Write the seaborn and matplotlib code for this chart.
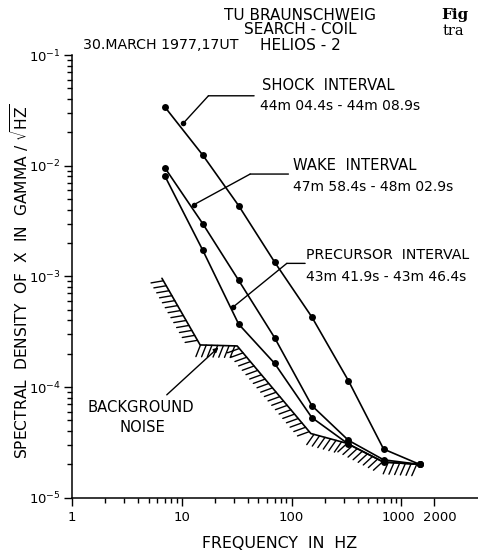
import numpy as np
import pandas as pd
import matplotlib
matplotlib.use("Agg")
import matplotlib.pyplot as plt
import seaborn as sns
from matplotlib import patheffects
from matplotlib.ticker import FixedLocator, NullFormatter, FixedFormatter
from matplotlib.transforms import ScaledTranslation

# ---- data ----
freq = [7.0, 15.5, 33, 70, 153, 330, 690, 1470]
shock = [3.4e-2, 1.25e-2, 4.35e-3, 1.35e-3, 4.3e-4, 1.14e-4, 2.75e-5, 2.0e-5]
wake = [9.6e-3, 3.0e-3, 9.2e-4, 2.8e-4, 6.8e-5, 3.3e-5, 2.2e-5, 2.0e-5]
precursor = [8.1e-3, 1.73e-3, 3.7e-4, 1.64e-4, 5.3e-5, 3.05e-5, 2.1e-5, 2.0e-5]
noise_freq = [6.6, 14.7, 32, 150, 320, 685, 1470]
noise_level = [9.6e-4, 2.4e-4, 2.35e-4, 3.8e-5, 3.1e-5, 2.1e-5, 2.0e-5]

x_major = [1, 10, 100, 1000, 2000]
x_major_labels = ["1", "10", "100", "1000", "2000"]
x_minor = [m * d for d in (1, 10, 100) for m in range(2, 10)]
y_major = [1e-5, 1e-4, 1e-3, 1e-2, 1e-1]
y_major_labels = [r"$10^{-5}$", r"$10^{-4}$", r"$10^{-3}$", r"$10^{-2}$", r"$10^{-1}$"]
y_minor = [m * d for d in (1e-5, 1e-4, 1e-3, 1e-2) for m in range(2, 10)]

series_names = ["SHOCK", "WAKE", "PRECURSOR"]
df = pd.DataFrame({
    "freq": freq * 3,
    "value": shock + wake + precursor,
    "series": [n for n in series_names for _ in freq],
})

sns.set_style("ticks")
plt.rcParams["font.family"] = ["DejaVu Sans"]
for k in ("text.color", "axes.labelcolor", "xtick.color", "ytick.color", "axes.edgecolor"):
    plt.rcParams[k] = "black"

W, H = 478, 554
fig = plt.figure(figsize=(W / 100, H / 100), dpi=100)
ax = fig.add_axes([72 / W, 1 - 497.7 / H, 1 - 72 / W, (497.7 - 55) / H])
ax.set_xscale("log")
ax.set_yscale("log")

sns.lineplot(data=df, x="freq", y="value", hue="series",
             palette=["black"] * 3, marker="o", markersize=5,
             markeredgewidth=0, linewidth=1.2, legend=False, ax=ax,
             estimator=None, sort=False)

sns.lineplot(x=noise_freq, y=noise_level, color="black", linewidth=1.2,
             ax=ax, estimator=None, sort=False)
ax.lines[-1].set_path_effects([
    patheffects.withTickedStroke(angle=-110, spacing=4.1, length=2.2, linewidth=1.0)
])

ax.set_xlim(1, 5000)
ax.set_ylim(1e-5, 1e-1)
ax.xaxis.set_major_locator(FixedLocator(x_major))
ax.xaxis.set_major_formatter(FixedFormatter(x_major_labels))
ax.xaxis.set_minor_locator(FixedLocator(x_minor))
ax.xaxis.set_minor_formatter(NullFormatter())
ax.yaxis.set_major_locator(FixedLocator(y_major))
ax.yaxis.set_major_formatter(FixedFormatter(y_major_labels))
ax.yaxis.set_minor_locator(FixedLocator(y_minor))
ax.yaxis.set_minor_formatter(NullFormatter())
ax.tick_params(which="major", length=6, width=1.0, color="black")
ax.tick_params(axis="x", which="major", labelsize=9.5)
ax.tick_params(axis="y", which="major", labelsize=9.5, pad=2)
ax.tick_params(which="minor", length=3.5, width=1.0, color="black")
# nudge the crowded 1000 / 2000 labels apart
xt = ax.get_xticklabels()
xt[3].set_transform(xt[3].get_transform() + ScaledTranslation(-3 / 100, 0, fig.dpi_scale_trans))
xt[4].set_transform(xt[4].get_transform() + ScaledTranslation(5 / 100, 0, fig.dpi_scale_trans))
for s in ("top", "right"):
    ax.spines[s].set_visible(False)
for s in ("left", "bottom"):
    ax.spines[s].set_linewidth(1.1)
ax.set_xlabel("")
ax.set_ylabel("")
ax.patch.set_alpha(0)

# ---- annotation leaders (target, elbow, end of horizontal bar) in data coords ----
leaders = [
    ((10.3, 0.0241), (17.5, 0.0428), (45.6, 0.0428)),
    ((12.8, 0.00442), (42.0, 0.0084), (93.7, 0.0084)),
    ((29.5, 5.3e-4), (90.6, 1.31e-3), (133, 1.31e-3)),
]
for tgt, elb, end in leaders:
    ax.annotate("", xy=tgt, xytext=elb,
                arrowprops=dict(arrowstyle="-", lw=1.0, color="black", shrinkA=0, shrinkB=0))
    ax.annotate("", xy=elb, xytext=end,
                arrowprops=dict(arrowstyle="-", lw=1.0, color="black", shrinkA=0, shrinkB=0))
    ax.plot([tgt[0]], [tgt[1]], "o", color="black", ms=4, mew=0)

ax.annotate("", xy=(21.6, 2.28e-4), xytext=(7.3, 8.5e-5),
            arrowprops=dict(arrowstyle="-|>", lw=1.0, color="black",
                            shrinkA=0, shrinkB=0, mutation_scale=7))

def ftext(x, y, s, **kw):
    kw.setdefault("fontsize", 10.6)
    kw.setdefault("va", "center")
    fig.text(x / W, 1 - y / H, s, **kw)

ftext(300, 15, "TU BRAUNSCHWEIG", ha="center", fontsize=11)
ftext(300, 30, "SEARCH - COIL", ha="center", fontsize=11)
ftext(300, 45, "HELIOS - 2", ha="center", fontsize=11)
ftext(83, 45, "30.MARCH 1977,17UT", ha="left", fontsize=10.2)
ftext(441, 15, "Fig", ha="left", fontsize=11, family="DejaVu Serif", weight="bold")
ftext(443, 31, "tra", ha="left", fontsize=10.5, family="DejaVu Serif")

ftext(262, 86, "SHOCK  INTERVAL", ha="left")
ftext(260, 106, "44m 04.4s - 44m 08.9s", ha="left", fontsize=10)
ftext(293, 165, "WAKE  INTERVAL", ha="left")
ftext(293, 187, "47m 58.4s - 48m 02.9s", ha="left", fontsize=10)
ftext(306, 255, "PRECURSOR  INTERVAL", ha="left", fontsize=10.2)
ftext(306, 277, "43m 41.9s - 43m 46.4s", ha="left", fontsize=10)
ftext(141, 408, "BACKGROUND", ha="center")
ftext(142, 427, "NOISE", ha="center")

ftext(280, 543, "FREQUENCY  IN  HZ", ha="center", fontsize=11.4)
ftext(20, 281, r"SPECTRAL  DENSITY  OF  X  IN  GAMMA / $\sqrt{\mathrm{HZ}}$",
      ha="center", rotation=90, fontsize=11.2)

fig.savefig("out.png", dpi=100)
